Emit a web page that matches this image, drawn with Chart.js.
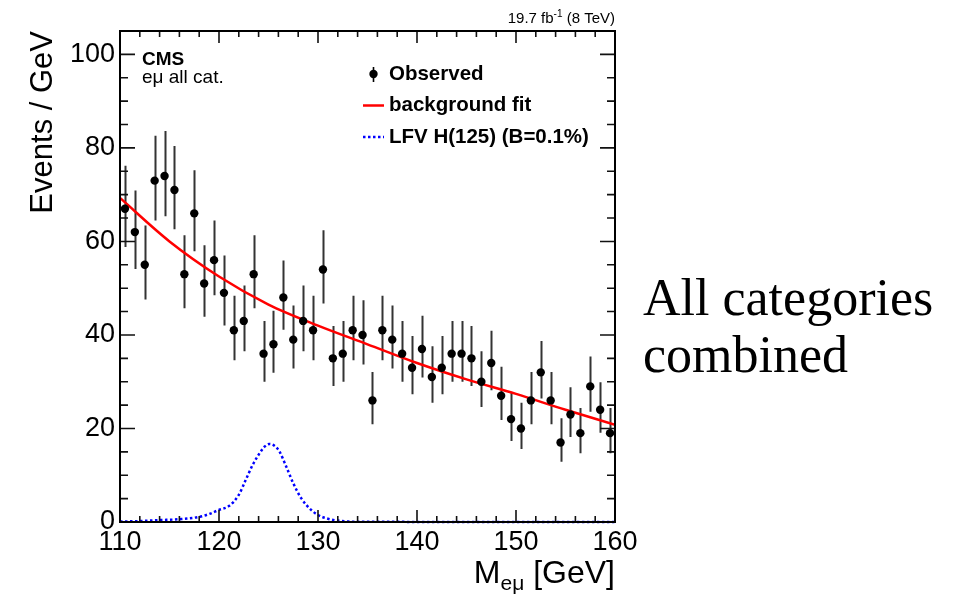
<!DOCTYPE html>
<html lang="en">
<head>
<meta charset="UTF-8">
<title>LFV H to e-mu - all categories combined</title>
<script src="https://cdn.jsdelivr.net/npm/chart.js"></script>
<style>
    body {
        margin: 0;
        padding: 0;
        background: #fff;
    }
    .wrap {
        position: relative;
        width: 960px;
        height: 594px;
    }
    #massChart {
        position: absolute;
        left: 0;
        top: 0;
    }
    .side-note {
        position: absolute;
        left: 643px;
        top: 269px;
        font-family: 'Liberation Serif', 'Times New Roman', serif;
        font-size: 52px;
        line-height: 57px;
        color: #000;
    }
</style>
</head>
<body>
<div class="wrap">
    <canvas id="massChart" width="960" height="594"></canvas>
    <div class="side-note">All categories<br>combined</div>
</div>

<script>
// bin centres (GeV) and observed events per GeV
const massBins = [110.5, 111.5, 112.5, 113.5, 114.5, 115.5, 116.5, 117.5, 118.5, 119.5,
                  120.5, 121.5, 122.5, 123.5, 124.5, 125.5, 126.5, 127.5, 128.5, 129.5,
                  130.5, 131.5, 132.5, 133.5, 134.5, 135.5, 136.5, 137.5, 138.5, 139.5,
                  140.5, 141.5, 142.5, 143.5, 144.5, 145.5, 146.5, 147.5, 148.5, 149.5,
                  150.5, 151.5, 152.5, 153.5, 154.5, 155.5, 156.5, 157.5, 158.5, 159.5];
const observed = [67, 62, 55, 73, 74, 71, 53, 66, 51, 56,
                  49, 41, 43, 53, 36, 38, 48, 39, 43, 41,
                  54, 35, 36, 41, 40, 26, 41, 39, 36, 33,
                  37, 31, 33, 36, 36, 35, 30, 34, 27, 22,
                  20, 26, 32, 26, 17, 23, 19, 29, 24, 19];
const errLow  = [8.2, 7.9, 7.4, 8.5, 8.6, 8.4, 7.3, 8.1, 7.1, 7.5,
                 7.0, 6.4, 6.5, 7.3, 6.0, 6.1, 6.9, 6.2, 6.5, 6.4,
                 7.3, 5.9, 6.0, 6.4, 6.3, 5.1, 6.4, 6.2, 6.0, 5.7,
                 6.1, 5.5, 5.7, 6.0, 6.0, 5.9, 5.4, 5.8, 5.2, 4.7,
                 4.4, 5.1, 5.6, 5.1, 4.1, 4.8, 4.3, 5.4, 4.9, 4.3];
const errHigh = [9.2, 8.9, 8.4, 9.6, 9.6, 9.4, 8.3, 9.2, 8.2, 8.5,
                 8.0, 7.4, 7.6, 8.3, 7.0, 7.2, 7.9, 7.3, 7.6, 7.4,
                 8.4, 6.9, 7.0, 7.4, 7.4, 6.1, 7.4, 7.3, 7.0, 6.8,
                 7.1, 6.6, 6.8, 7.0, 7.0, 6.9, 6.5, 6.9, 6.2, 5.7,
                 5.5, 6.1, 6.7, 6.1, 5.2, 5.8, 5.4, 6.4, 5.9, 5.4];

// background fit curve
const fitMass   = [110, 115, 120, 125, 130, 135, 140, 145, 150, 155, 160];
const fitValues = [69.3, 60.0, 52.5, 46.5, 42.0, 38.0, 34.0, 30.5, 27.4, 24.0, 20.8];

// LFV H(125) signal shape, B = 0.1%
const sigMass   = [110, 112, 114, 116, 118, 119, 120, 121, 122, 122.7, 123.4, 124.1, 124.6,
                   125.1, 125.6, 126.1, 126.8, 127.5, 128.3, 129.3, 130, 131, 132, 134, 160];
const sigValues = [0.1, 0.2, 0.4, 0.6, 1.1, 1.7, 2.6, 3.4, 5.8, 9.0, 12.2, 14.7, 16.1,
                   16.7, 16.3, 15.1, 11.8, 8.3, 5.1, 2.6, 1.5, 0.7, 0.3, 0.05, 0];

const xTickLabels = [110, 120, 130, 140, 150, 160];
const yTickLabels = [0, 20, 40, 60, 80, 100];

const toPoints = (xs, ys) => xs.map((x, i) => ({ x: x, y: ys[i] }));

Chart.defaults.font.family = "'Liberation Sans', Arial, sans-serif";
Chart.defaults.color = '#000';

// vertical error bars of the observed points
const errorBars = {
    id: 'errorBars',
    beforeDatasetsDraw(chart) {
        const ctx = chart.ctx;
        const x = chart.scales.x, y = chart.scales.y;
        ctx.save();
        ctx.strokeStyle = '#333';
        ctx.lineWidth = 2;
        ctx.beginPath();
        massBins.forEach((m, i) => {
            const px = Math.round(x.getPixelForValue(m)) + 0.5;
            ctx.moveTo(px, y.getPixelForValue(observed[i] + errHigh[i]));
            ctx.lineTo(px, y.getPixelForValue(observed[i] - errLow[i]));
        });
        ctx.stroke();
        ctx.restore();
    }
};

// ROOT style frame with inward ticks on all four sides
const rootFrame = {
    id: 'rootFrame',
    afterDatasetsDraw(chart) {
        const ctx = chart.ctx;
        const { left, right, top, bottom } = chart.chartArea;
        const x = chart.scales.x, y = chart.scales.y;
        ctx.save();
        ctx.strokeStyle = '#111';
        ctx.lineWidth = 1.6;
        ctx.beginPath();
        for (let m = 110; m <= 160; m += 2) {
            const px = x.getPixelForValue(m);
            const len = (m % 10 === 0) ? 12 : 6;
            ctx.moveTo(px, bottom); ctx.lineTo(px, bottom - len);
            ctx.moveTo(px, top); ctx.lineTo(px, top + len);
        }
        for (let v = 0; v <= 105; v += 5) {
            const py = y.getPixelForValue(v);
            const len = (v % 20 === 0) ? 15 : 8;
            ctx.moveTo(left, py); ctx.lineTo(left + len, py);
            ctx.moveTo(right, py); ctx.lineTo(right - len, py);
        }
        ctx.stroke();
        ctx.strokeStyle = '#000';
        ctx.lineWidth = 2;
        ctx.strokeRect(left, top, right - left, bottom - top);
        ctx.restore();
    }
};

// labels, legend and axis title with subscripts
const annotations = {
    id: 'annotations',
    afterDraw(chart) {
        const ctx = chart.ctx;
        const { right } = chart.chartArea;
        const sans = "'Liberation Sans', Arial, sans-serif";
        ctx.save();
        ctx.fillStyle = '#000';
        ctx.textBaseline = 'alphabetic';
        ctx.textAlign = 'left';

        // CMS label
        ctx.font = 'bold 19px ' + sans;
        ctx.fillText('CMS', 142, 65);
        ctx.font = '19px ' + sans;
        ctx.fillText('e\u03bc all cat.', 142, 83);

        // luminosity label top right
        const big = '15px ' + sans, small = '10px ' + sans;
        ctx.font = big;
        const w1 = ctx.measureText('19.7 fb').width;
        const w3 = ctx.measureText(' (8 TeV)').width;
        ctx.font = small;
        const w2 = ctx.measureText('-1').width;
        let lx = right - (w1 + w2 + w3);
        ctx.font = big; ctx.fillText('19.7 fb', lx, 23); lx += w1;
        ctx.font = small; ctx.fillText('-1', lx, 17); lx += w2;
        ctx.font = big; ctx.fillText(' (8 TeV)', lx, 23);

        // x axis title M_emu [GeV]
        const tBig = '32px ' + sans, tSmall = '21px ' + sans;
        ctx.font = tBig;
        const a = ctx.measureText('M').width;
        const c = ctx.measureText(' [GeV]').width;
        ctx.font = tSmall;
        const b = ctx.measureText('e\u03bc').width;
        let tx = right - (a + b + c);
        ctx.font = tBig; ctx.fillText('M', tx, 583); tx += a;
        ctx.font = tSmall; ctx.fillText('e\u03bc', tx, 590); tx += b;
        ctx.font = tBig; ctx.fillText(' [GeV]', tx, 583);

        // legend
        ctx.strokeStyle = '#000';
        ctx.lineWidth = 1.6;
        ctx.beginPath();
        ctx.moveTo(373.5, 67); ctx.lineTo(373.5, 82);
        ctx.stroke();
        ctx.beginPath();
        ctx.arc(373.5, 74, 4.2, 0, Math.PI * 2);
        ctx.fill();

        ctx.strokeStyle = '#ff0000';
        ctx.lineWidth = 2.5;
        ctx.beginPath();
        ctx.moveTo(363, 105.5); ctx.lineTo(384, 105.5);
        ctx.stroke();

        ctx.strokeStyle = '#0000ff';
        ctx.setLineDash([2.5, 2.5]);
        ctx.beginPath();
        ctx.moveTo(363, 137); ctx.lineTo(384, 137);
        ctx.stroke();
        ctx.setLineDash([]);

        ctx.font = 'bold 20.5px ' + sans;
        ctx.fillText('Observed', 389, 80);
        ctx.fillText('background fit', 389, 111);
        ctx.fillText('LFV H(125) (B=0.1%)', 389, 143);
        ctx.restore();
    }
};

const ctx = document.getElementById('massChart').getContext('2d');
new Chart(ctx, {
    type: 'line',
    data: {
        datasets: [{
            label: 'Observed',
            data: toPoints(massBins, observed),
            showLine: false,
            pointRadius: 4.2,
            pointBackgroundColor: '#000',
            pointBorderColor: '#000',
            pointBorderWidth: 0
        }, {
            label: 'background fit',
            data: toPoints(fitMass, fitValues),
            borderColor: '#ff0000',
            borderWidth: 2.5,
            pointRadius: 0,
            cubicInterpolationMode: 'monotone',
            fill: false
        }, {
            label: 'LFV H(125) (B=0.1%)',
            data: toPoints(sigMass, sigValues),
            borderColor: '#0000ff',
            borderWidth: 2.5,
            borderDash: [2.5, 2.5],
            pointRadius: 0,
            cubicInterpolationMode: 'monotone',
            fill: false,
            clip: 4
        }]
    },
    options: {
        responsive: false,
        animation: false,
        events: [],
        layout: {
            padding: { left: 0, right: 345, top: 31, bottom: 0 }
        },
        plugins: {
            legend: { display: false },
            tooltip: { enabled: false }
        },
        scales: {
            x: {
                type: 'linear',
                min: 110,
                max: 160,
                afterBuildTicks: s => { s.ticks = xTickLabels.map(v => ({ value: v })); },
                afterFit: s => { s.height = 72; },
                grid: { display: false, drawTicks: false },
                border: { display: false },
                ticks: {
                    font: { size: 27 },
                    color: '#000',
                    padding: 4,
                    maxRotation: 0,
                    autoSkip: false
                }
            },
            y: {
                type: 'linear',
                min: 0,
                max: 105,
                afterBuildTicks: s => { s.ticks = yTickLabels.map(v => ({ value: v })); },
                afterFit: s => { s.width = 120; },
                grid: { display: false, drawTicks: false },
                border: { display: false },
                ticks: {
                    font: { size: 27 },
                    color: '#000',
                    padding: 5,
                    autoSkip: false
                },
                title: {
                    display: true,
                    text: 'Events / GeV',
                    align: 'end',
                    color: '#000',
                    font: { size: 31 },
                    padding: { top: 25, bottom: 0 }
                }
            }
        }
    },
    plugins: [errorBars, rootFrame, annotations]
});
</script>
</body>
</html>
